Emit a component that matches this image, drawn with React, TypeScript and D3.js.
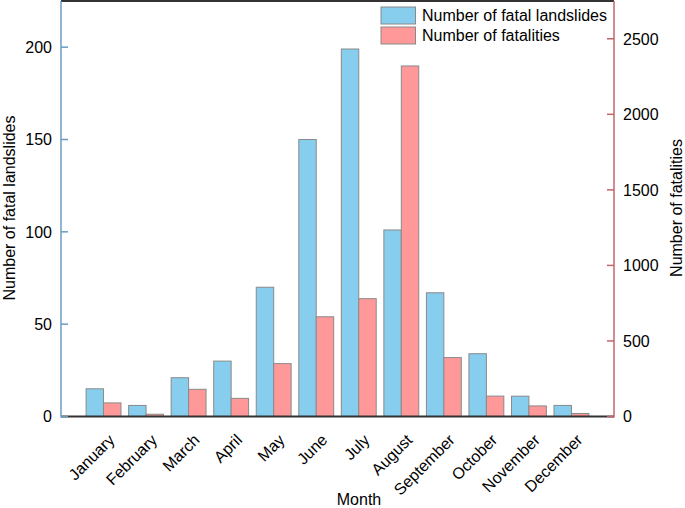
import React from "react";
import * as d3 from "d3";

const months = ["January", "February", "March", "April", "May", "June", "July", "August", "September", "October", "November", "December"];
const landslides = [15, 6, 21, 30, 70, 150, 199, 101, 67, 34, 11, 6];
const fatalities = [90, 15, 180, 120, 350, 660, 780, 2320, 390, 135, 70, 20];
const leftTicks = [0, 50, 100, 150, 200];
const rightTicks = [0, 500, 1000, 1500, 2000, 2500];
const legendLabels = ["Number of fatal landslides", "Number of fatalities"];

const W = 685, H = 508;
const L = 61, R = 614, T = 1, B = 416.5;
const FONT = "Liberation Sans, Arial, sans-serif";
const BLUE = "#87cdee";
const RED = "#ff9999";
const BLUE_AX = "#6a9cc0";
const RED_AX = "#c0666c";
const FS = 16;

export default function App() {
  const x = d3.scaleLinear().domain([0, 13]).range([L, R]);
  const yL = d3.scaleLinear().domain([0, 225]).range([B, T]);
  const yR = d3.scaleLinear().domain([0, 2750]).range([B, T]);
  const step = x(1) - x(0);
  const bw = step * 0.41;
  return (
    <svg width={W} height={H} style={{ position: "fixed", left: 0, top: 0, background: "#fff" }} fontFamily={FONT}>
      {months.map((m, i) => (
        <g key={m}>
          <rect x={x(i + 1) - bw} y={yL(landslides[i])} width={bw} height={B - yL(landslides[i])} fill={BLUE} stroke="#8a8a8a" strokeWidth={1} />
          <rect x={x(i + 1)} y={yR(fatalities[i])} width={bw} height={B - yR(fatalities[i])} fill={RED} stroke="#8a8a8a" strokeWidth={1} />
        </g>
      ))}
      <line x1={L} x2={R} y1={T} y2={T} stroke="#333" strokeWidth={2} />
      <line x1={L} x2={R} y1={B} y2={B} stroke="#333" strokeWidth={2} />
      <line x1={L} x2={L} y1={T} y2={B + 1} stroke={BLUE_AX} strokeWidth={1.5} />
      {leftTicks.map((t) => (
        <g key={t}>
          <line x1={L} x2={L + 7} y1={yL(t)} y2={yL(t)} stroke={BLUE_AX} strokeWidth={1.5} />
          <text x={L - 9} y={yL(t)} dy="0.36em" textAnchor="end" fontSize={FS}>{t}</text>
        </g>
      ))}
      <line x1={R} x2={R} y1={T} y2={B + 1} stroke={RED_AX} strokeWidth={1.5} />
      {rightTicks.map((t) => (
        <g key={t}>
          <line x1={R - 7} x2={R} y1={yR(t)} y2={yR(t)} stroke={RED_AX} strokeWidth={1.5} />
          <text x={R + 9} y={yR(t)} dy="0.36em" textAnchor="start" fontSize={FS}>{t}</text>
        </g>
      ))}
      {months.map((m, i) => (
        <text key={m} transform={`translate(${x(i + 1) + 12},${441}) rotate(-45)`} textAnchor="end" fontSize={FS}>{m}</text>
      ))}
      <text x={359} y={505} textAnchor="middle" fontSize={FS}>Month</text>
      <text transform={`translate(15,208) rotate(-90)`} textAnchor="middle" fontSize={FS}>{"Number of fatal landslides"}</text>
      <text transform={`translate(682,208) rotate(-90)`} textAnchor="middle" fontSize={FS}>{"Number of fatalities"}</text>
      {legendLabels.map((lab, i) => (
        <g key={lab}>
          <rect x={381} y={7 + i * 20} width={34.5} height={17} fill={i === 0 ? BLUE : RED} stroke="#8a8a8a" strokeWidth={1} />
          <text x={422} y={21 + i * 20} fontSize={FS}>{lab}</text>
        </g>
      ))}
    </svg>
  );
}
